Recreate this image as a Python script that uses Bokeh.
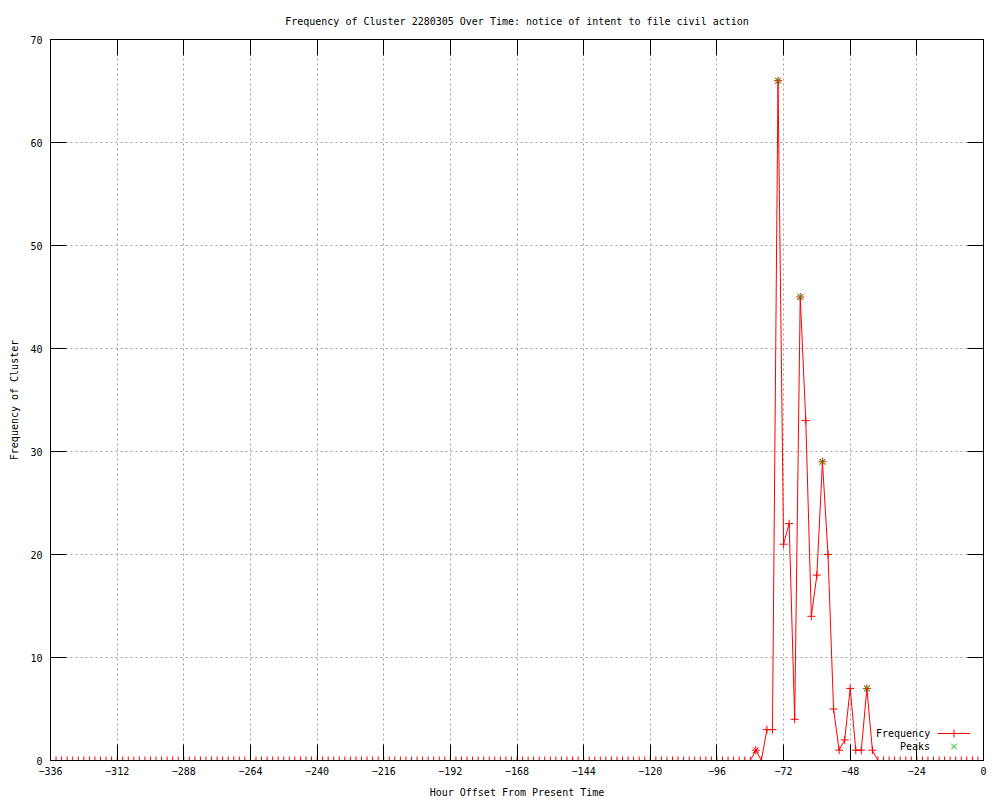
from bokeh.plotting import figure
from bokeh.models import (Range1d, FixedTicker, LinearAxis, Legend, LegendItem,
                          CustomJSTickFormatter)
from bokeh.embed import file_html
from bokeh.resources import INLINE

# ---------------- data ----------------
hours = list(range(-336, 0, 2))  # one sample every 2 hours, -336 .. -2
frequency = [
    0, 0, 0, 0, 0, 0, 0, 0, 0, 0, 0, 0, 0, 0, 0, 0, 0, 0, 0, 0, 0,   # -336 .. -296
    0, 0, 0, 0, 0, 0, 0, 0, 0, 0, 0, 0, 0, 0, 0, 0, 0, 0, 0, 0, 0,   # -294 .. -254
    0, 0, 0, 0, 0, 0, 0, 0, 0, 0, 0, 0, 0, 0, 0, 0, 0, 0, 0, 0, 0,   # -252 .. -212
    0, 0, 0, 0, 0, 0, 0, 0, 0, 0, 0, 0, 0, 0, 0, 0, 0, 0, 0, 0, 0,   # -210 .. -170
    0, 0, 0, 0, 0, 0, 0, 0, 0, 0, 0, 0, 0, 0, 0, 0, 0, 0, 0, 0, 0,   # -168 .. -128
    0, 0, 0, 0, 0, 0, 0, 0, 0, 0, 0, 0, 0, 0, 0, 0, 0, 0, 0, 0, 0,   # -126 .. -86
    0, 1, 0, 3, 3, 66, 21, 23, 4, 45, 33, 14,                          # -84 .. -62
    18, 29, 20, 5, 1, 2, 7, 1, 1, 7, 1, 0,                             # -60 .. -38
    0, 0, 0, 0, 0, 0, 0, 0, 0, 0, 0, 0, 0, 0, 0, 0, 0, 0,             # -36 .. -2
]
star_hours = [-82, -74, -66, -58, -42]
star_values = [1, 66, 45, 29, 7]
peak_hours = [-74, -66, -58, -42]
peak_values = [66, 45, 29, 7]
x_ticks = [-336, -312, -288, -264, -240, -216, -192, -168, -144, -120, -96, -72, -48, -24, 0]
y_ticks = [0, 10, 20, 30, 40, 50, 60, 70]

TITLE = "Frequency of Cluster 2280305 Over Time: notice of intent to file civil action"
FONT = "DejaVu Sans Mono"
FS = "10px"
RED = "#ff0000"
GREEN = "#00c000"

p = figure(width=1000, height=800, output_backend="svg", toolbar_location=None,
           x_range=Range1d(-336, 0), y_range=Range1d(0, 70),
           min_border_left=50, min_border_right=17, min_border_top=39, min_border_bottom=40,
           title=TITLE,
           x_axis_label="Hour Offset From Present Time",
           y_axis_label="Frequency of Cluster")
p.background_fill_color = "white"
p.border_fill_color = "white"
p.outline_line_color = "black"
p.outline_line_width = 1

p.title.align = "center"
p.title.text_font = FONT
p.title.text_font_size = FS
p.title.text_font_style = "normal"
p.title.text_color = "black"
p.title.standoff = 25

p.xaxis.ticker = FixedTicker(ticks=x_ticks)
p.yaxis.ticker = FixedTicker(ticks=y_ticks)

for ax in list(p.xaxis) + list(p.yaxis):
    ax.major_tick_in = 16
    ax.major_tick_out = 0
    ax.minor_tick_in = 0
    ax.minor_tick_out = 0
    ax.axis_line_color = "black"
    ax.major_tick_line_color = "black"
    ax.major_label_text_font = FONT
    ax.major_label_text_font_size = FS
    ax.major_label_text_color = "black"
    ax.axis_label_text_font = FONT
    ax.axis_label_text_font_size = FS
    ax.axis_label_text_font_style = "normal"
    ax.axis_label_text_color = "black"

p.xaxis.major_label_standoff = 6
p.xaxis.axis_label_standoff = 9
p.yaxis.major_label_standoff = 8
p.yaxis.axis_label_standoff = 7

# mirrored ticks on top and right
empty = CustomJSTickFormatter(code="return ''")
top = LinearAxis(ticker=FixedTicker(ticks=x_ticks), formatter=empty,
                 major_tick_in=16, major_tick_out=0, minor_tick_in=0, minor_tick_out=0,
                 major_label_text_font_size="0px", major_label_standoff=0,
                 axis_line_color="black")
right = LinearAxis(ticker=FixedTicker(ticks=y_ticks), formatter=empty,
                   major_tick_in=16, major_tick_out=0, minor_tick_in=0, minor_tick_out=0,
                   major_label_text_font_size="0px", major_label_standoff=0,
                   axis_line_color="black")
p.add_layout(top, "above")
p.add_layout(right, "right")

p.grid.grid_line_color = "#a0a0a0"
p.grid.grid_line_dash = "2 3"
p.grid.grid_line_width = 1

line_r = p.line(hours, frequency, line_color=RED, line_width=1)
pts_r = p.scatter(hours, frequency, marker="cross", size=8, line_color=RED, line_width=1)
p.scatter(star_hours, star_values, marker="x", size=8, line_color=RED, line_width=1)
peak_r = p.scatter(peak_hours, peak_values, marker="x", size=8, line_color=GREEN, line_width=1)


def style_key(lg):
    lg.background_fill_alpha = 0
    lg.border_line_alpha = 0
    lg.label_text_font = FONT
    lg.label_text_font_size = FS
    lg.label_text_color = "black"
    lg.spacing = 0
    lg.padding = 0
    lg.margin = 0


# key texts (gnuplot style: text right-aligned, sample to its right)
key_text1 = Legend(items=[LegendItem(label="Frequency", renderers=[line_r, pts_r])],
                   location=(825, 20))
key_text2 = Legend(items=[LegendItem(label="Peaks", renderers=[peak_r])],
                   location=(849, 7))
for lg in (key_text1, key_text2):
    style_key(lg)
    lg.label_height = 13
    lg.glyph_width = 0
    lg.glyph_height = 13
    lg.label_standoff = 1

# key samples
key_mark1 = Legend(items=[LegendItem(label="\u00a0", renderers=[line_r, pts_r])],
                   location=(887, 17))
key_mark2 = Legend(items=[LegendItem(label="\u00a0", renderers=[peak_r])],
                   location=(887, 4))
for lg in (key_mark1, key_mark2):
    style_key(lg)
    lg.label_height = 20
    lg.glyph_width = 33
    lg.glyph_height = 20
    lg.label_standoff = 0

p.add_layout(key_text1)
p.add_layout(key_text2)
p.add_layout(key_mark1)
p.add_layout(key_mark2)

open("out.html", "w").write(file_html(p, INLINE))
